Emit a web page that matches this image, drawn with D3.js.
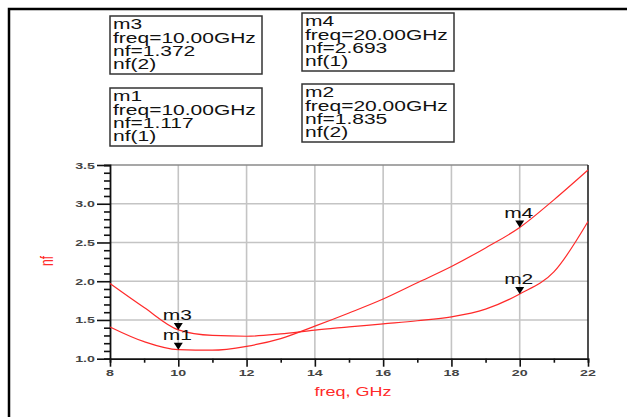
<!DOCTYPE html>
<html>
<head>
<meta charset="utf-8">
<script src="https://cdn.jsdelivr.net/npm/d3@7"></script>
<style>
  body { margin: 0; background: #fff; }
  svg { display: block; font-family: Arial, "Liberation Sans", sans-serif; }
</style>
</head>
<body>
<svg id="chart" width="627" height="417"></svg>
<script>
// Data
const freq = [8, 9, 10, 11, 12, 13, 14, 15, 16, 17, 18, 19, 20, 21, 22];
const nf1 = [1.41, 1.22, 1.117, 1.11, 1.16, 1.26, 1.42, 1.59, 1.77, 1.98, 2.19, 2.43, 2.693, 3.05, 3.435];
const nf2 = [1.97, 1.66, 1.372, 1.30, 1.29, 1.32, 1.37, 1.41, 1.45, 1.49, 1.54, 1.64, 1.835, 2.12, 2.77];
const xTicks = [8, 10, 12, 14, 16, 18, 20, 22];
const yTicks = [1.0, 1.5, 2.0, 2.5, 3.0, 3.5];

// Marker readouts
const markerNames = ["m3", "m4", "m1", "m2"];
const markerFreq = [10, 20, 10, 20];
const markerValue = [1.372, 2.693, 1.117, 1.835];
const markerTrace = ["nf(2)", "nf(1)", "nf(1)", "nf(2)"];

const sx = 1.5; // the picture is stretched horizontally
const red = "#ff2a2a";

const svg = d3.select("#chart");

// outer frame (only left and top are visible)
svg.append("path")
    .attr("d", "M9,417 V9 H627")
    .attr("fill", "none")
    .attr("stroke", "#000")
    .attr("stroke-width", 2.5);

const x = d3.scaleLinear().domain([8, 22]).range([110, 588]);
const y = d3.scaleLinear().domain([1, 3.5]).range([358.7, 165]);

// grid
svg.append("g").selectAll("line")
    .data(xTicks.slice(1, -1))
    .enter().append("line")
    .attr("x1", d => x(d)).attr("x2", d => x(d))
    .attr("y1", y(3.5)).attr("y2", y(1))
    .attr("stroke", "#c4c4c4").attr("stroke-width", 1.6);

svg.append("g").selectAll("line")
    .data(yTicks.slice(1, -1))
    .enter().append("line")
    .attr("x1", x(8)).attr("x2", x(22))
    .attr("y1", d => y(d)).attr("y2", d => y(d))
    .attr("stroke", "#c4c4c4").attr("stroke-width", 1.6);

// plot border: top grey, right dark
svg.append("line")
    .attr("x1", x(8)).attr("x2", x(22)).attr("y1", y(3.5)).attr("y2", y(3.5))
    .attr("stroke", "#8a8a8a").attr("stroke-width", 1.6);
svg.append("line")
    .attr("x1", x(22)).attr("x2", x(22)).attr("y1", y(3.5)).attr("y2", y(1))
    .attr("stroke", "#222").attr("stroke-width", 1.6);

// axes
const xAxis = svg.append("g")
    .attr("transform", `translate(0,${y(1)})`)
    .call(d3.axisBottom(x).tickValues(d3.range(8, 23, 1)).tickSize(4).tickFormat(""));
xAxis.selectAll(".tick line").filter(d => d % 2 === 0).attr("y2", 8);

const yAxis = svg.append("g")
    .attr("transform", `translate(${x(8)},0)`)
    .call(d3.axisLeft(y).tickValues(d3.range(10, 36, 1).map(d => d / 10)).tickSize(6).tickFormat(""));
yAxis.selectAll(".tick line").filter(d => Math.round(d * 10) % 5 === 0).attr("x2", -13);

[xAxis, yAxis].forEach(a => {
    a.select(".domain").attr("stroke", "#111").attr("stroke-width", 1.8);
    a.selectAll(".tick line").attr("stroke", "#111").attr("stroke-width", 1.6);
});

// tick labels (stretched)
svg.append("g").selectAll("text")
    .data(xTicks)
    .enter().append("text")
    .attr("transform", d => `translate(${x(d)},${y(1) + 17}) scale(${sx},1)`)
    .attr("text-anchor", "middle")
    .attr("font-size", 9.5)
    .attr("font-weight", "bold")
    .attr("fill", "#444")
    .text(d => d);

svg.append("g").selectAll("text")
    .data(yTicks)
    .enter().append("text")
    .attr("transform", d => `translate(${x(8) - 15},${y(d) + 3.5}) scale(${sx},1)`)
    .attr("text-anchor", "end")
    .attr("font-size", 9.5)
    .attr("font-weight", "bold")
    .attr("fill", "#444")
    .text(d => d.toFixed(1));

// axis titles
svg.append("text")
    .attr("transform", `translate(${(x(8) + x(22)) / 2 + 4},396) scale(${sx},1)`)
    .attr("text-anchor", "middle")
    .attr("font-size", 12)
    .attr("fill", red)
    .text("freq, GHz");

svg.append("text")
    .attr("transform", `translate(53,261) scale(${sx},1) rotate(-90)`)
    .attr("text-anchor", "middle")
    .attr("font-size", 12)
    .attr("fill", red)
    .text("nf");

// traces
const line = d3.line()
    .x((d, i) => x(freq[i]))
    .y(d => y(d))
    .curve(d3.curveMonotoneX);

[nf1, nf2].forEach(series => {
    svg.append("path")
        .datum(series)
        .attr("d", line)
        .attr("fill", "none")
        .attr("stroke", red)
        .attr("stroke-width", 1.2);
});

// markers: triangle pointing down at the point, name above
const markers = markerNames.map((name, i) => ({
    name, f: markerFreq[i], v: markerValue[i], trace: markerTrace[i]
}));

const mg = svg.append("g");
markers.forEach(m => {
    const px = x(m.f), py = y(m.v);
    mg.append("path")
        .attr("d", `M${px - 4.5},${py - 7} L${px + 4.5},${py - 7} L${px},${py} Z`)
        .attr("fill", "#000");
    mg.append("text")
        .attr("transform", `translate(${px - 1},${py - 10}) scale(${sx},1)`)
        .attr("text-anchor", "middle")
        .attr("font-size", 14)
        .attr("fill", "#111")
        .text(m.name);
});

// readout boxes
const boxLeft = [110, 302, 110, 302];
const boxTop = [16, 13, 88, 84];
markers.forEach((m, i) => {
    const g = svg.append("g").attr("transform", `translate(${boxLeft[i]},${boxTop[i]})`);
    g.append("rect")
        .attr("width", 152).attr("height", 58)
        .attr("fill", "#fff")
        .attr("stroke", "#333").attr("stroke-width", 1.5);
    const lines = [m.name, `freq=${m.f.toFixed(2)}GHz`, `nf=${m.v.toFixed(3)}`, m.trace];
    lines.forEach((t, j) => {
        g.append("text")
            .attr("transform", `translate(3,${13.3 + j * 13.2}) scale(${sx},1)`)
            .attr("font-size", 14)
            .attr("fill", "#111")
            .text(t);
    });
});
</script>
</body>
</html>
